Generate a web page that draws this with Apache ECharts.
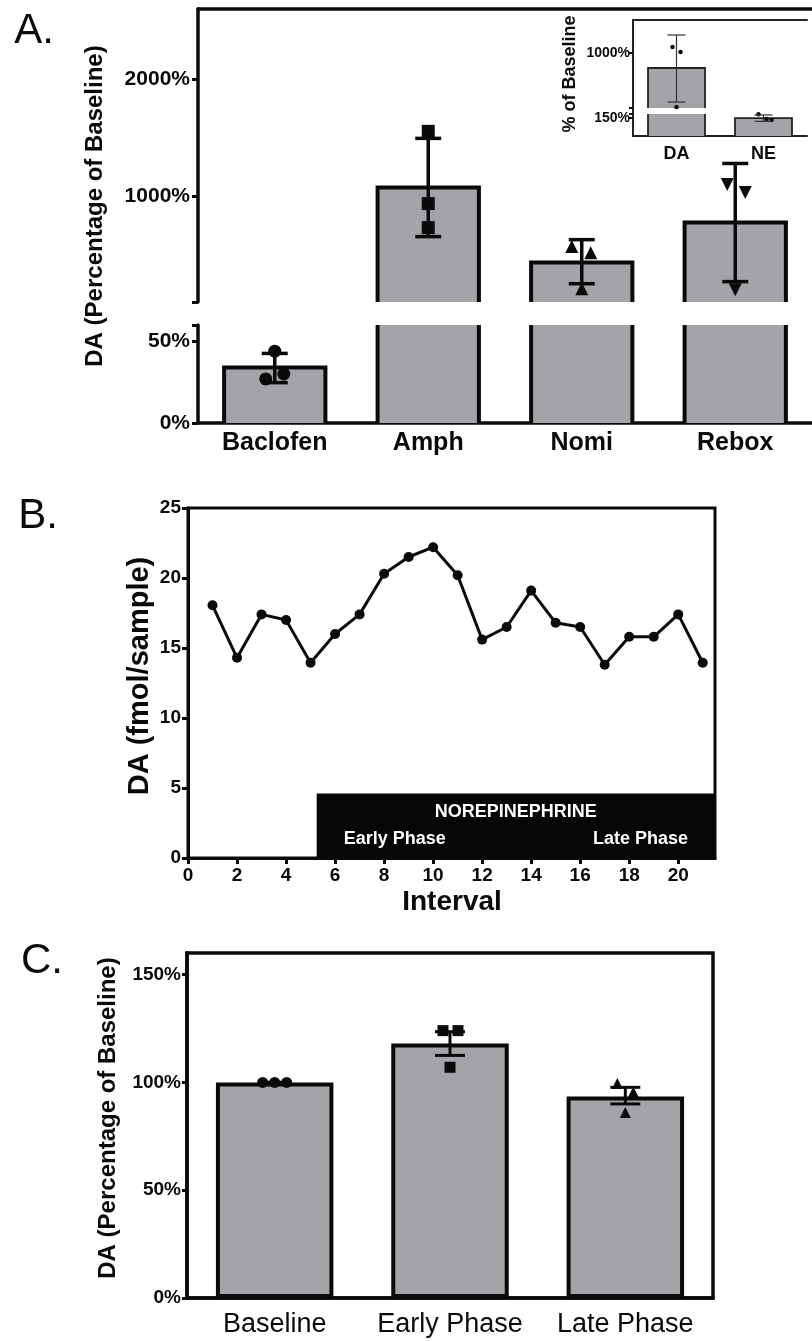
<!DOCTYPE html>
<html><head><meta charset="utf-8">
<script src="https://cdn.jsdelivr.net/npm/echarts@6/dist/echarts.min.js"></script>
<style>html,body{margin:0;padding:0;background:#fff}#c{width:812px;height:1341px}</style>
</head><body><div id="c"></div>
<script>
// ---------------- DATA ----------------
// Panel A
const CATS_A = ['Baclofen', 'Amph', 'Nomi', 'Rebox'];
const MEAN_A = [34, 1077, 436, 778];
const LOW_A = [24.7, 658, 256, 274];
const HIGH_A = [42.6, 1496, 632, 1282];
const POINTS_A = [[44, 27, 30], [1556, 940, 735], [573, 521, 214], [1103, 1034, 205]];
const A_TOP_RANGE = [100, 2600];
const A_TOP_LABELS = [1000, 2000];
const A_BOTTOM_RANGE = [0, 60];
const A_BOTTOM_LABELS = [0, 50];
// Panel A inset
const CATS_INSET = ['DA', 'NE'];
const MEAN_INSET = [809, 147];
const LOW_INSET = [376, 120];
const HIGH_INSET = [1229, 172];
const POINTS_INSET = [[1076, 1013, 314], [178, 139, 131]];
const INSET_TOP_RANGE = [300, 1420];
const INSET_TOP_LABELS = [1000];
const INSET_BOTTOM_RANGE = [0, 180];
const INSET_BOTTOM_LABELS = [150];
// Panel B
const INTERVALS = [1, 2, 3, 4, 5, 6, 7, 8, 9, 10, 11, 12, 13, 14, 15, 16, 17, 18, 19, 20, 21];
const DA_FMOL = [18.05, 14.3, 17.4, 17.0, 13.95, 16.0, 17.4, 20.3, 21.5, 22.2, 20.2, 15.6, 16.5, 19.1, 16.8, 16.5, 13.8, 15.8, 15.8, 17.4, 13.95];
const B_X_RANGE = [0, 21.5];
const B_X_LABELS = [0, 2, 4, 6, 8, 10, 12, 14, 16, 18, 20];
const B_Y_RANGE = [0, 25];
const NE_WINDOW = [5.25, 21.5];
const NE_BAR_TOP = 4.6;
// Panel C
const CATS_C = ['Baseline', 'Early Phase', 'Late Phase'];
const MEAN_C = [100, 118, 93.5];
const LOW_C = [100, 112.5, 90];
const HIGH_C = [100, 123.5, 97.7];
const POINTS_C = [[100, 100, 100], [124, 124, 107], [99.5, 95.5, 86]];
const C_RANGE = [0, 160];
const C_LABELS = [0, 50, 100, 150];

// ---------------- STYLE ----------------
const FONT = "'Liberation Sans', Arial, Helvetica, sans-serif";
const INK = '#0a0a0a';
const GRAY = '#a3a4a8';
const SYM_A = ['circle', 'rect', 'triangle', 'triangle'];
const ROT_A = [0, 0, 0, 180];
const JIT_A = [[0, -9, 9], [0, 0, 0], [-10, 9, 0], [-8, 10, 0]];
const JIT_INSET = [[-4, 4, 0], [-5, 3, 8]];
const SYM_C = ['circle', 'rect', 'triangle'];
const JIT_C = [[-12, 0, 12], [-7, 8, 0], [-8, 8, 0]];

const G_A_TOP = { left: 198, top: 9, width: 624, height: 293 };
const G_A_BOT = { left: 198, top: 325, width: 624, height: 98 };
const G_IN_TOP = { left: 633, top: 20, width: 174, height: 88 };
const G_IN_BOT = { left: 633, top: 114, width: 174, height: 22 };
const G_IN_FRAME = { left: 633, top: 20, width: 174, height: 116 };
const G_B = { left: 188, top: 508, width: 527, height: 350 };
const G_C = { left: 187, top: 953, width: 526, height: 345 };

// ---------------- HELPERS ----------------
function barRender(ratio, lw, fill, stroke) {
  return function (params, api) {
    const cs = params.coordSys;
    const p = api.coord([api.value(0), api.value(1)]);
    const bw = api.size([1, 0])[0] * ratio;
    const x0 = p[0] - bw / 2, x1 = p[0] + bw / 2;
    const yb = cs.y + cs.height;
    if (p[1] >= yb) return null;
    const over = p[1] < cs.y;
    const yt = over ? cs.y : p[1];
    const children = [{ type: 'rect', shape: { x: x0, y: yt, width: bw, height: yb - yt }, style: { fill: fill } }];
    if (over) {
      children.push({ type: 'line', shape: { x1: x0, y1: yb, x2: x0, y2: yt }, style: { stroke: stroke, lineWidth: lw } });
      children.push({ type: 'line', shape: { x1: x1, y1: yb, x2: x1, y2: yt }, style: { stroke: stroke, lineWidth: lw } });
    } else {
      children.push({ type: 'polyline', shape: { points: [[x0, yb], [x0, yt], [x1, yt], [x1, yb]] },
        style: { stroke: stroke, lineWidth: lw, fill: 'none', lineJoin: 'miter' } });
    }
    return { type: 'group', children: children };
  };
}
function errRender(capW, lw, stroke) {
  return function (params, api) {
    const cs = params.coordSys;
    const top = cs.y, bot = cs.y + cs.height;
    const lo = api.coord([api.value(0), api.value(1)]);
    const hi = api.coord([api.value(0), api.value(2)]);
    if (hi[1] > bot + 0.5 || lo[1] < top - 0.5) return null;
    const x = lo[0];
    const st = { stroke: stroke, lineWidth: lw };
    const ch = [{ type: 'line', shape: { x1: x, y1: Math.min(lo[1], bot), x2: x, y2: Math.max(hi[1], top) }, style: st }];
    if (lo[1] <= bot) ch.push({ type: 'line', shape: { x1: x - capW / 2, y1: lo[1], x2: x + capW / 2, y2: lo[1] }, style: st });
    if (hi[1] >= top) ch.push({ type: 'line', shape: { x1: x - capW / 2, y1: hi[1], x2: x + capW / 2, y2: hi[1] }, style: st });
    return { type: 'group', children: ch };
  };
}
function pointData(points, jit, syms, rots, size, range) {
  const out = [];
  points.forEach(function (arr, i) {
    arr.forEach(function (v, j) {
      if (range && (v < range[0] || v > range[1])) return;
      out.push({ value: [i, v], symbol: syms[i], symbolRotate: rots ? rots[i] : 0,
        symbolOffset: [jit[i][j], 0], symbolSize: size });
    });
  });
  return out;
}
const barData = (m) => m.map((v, i) => [i, v]);
const errData = (lo, hi) => lo.map((v, i) => [i, v, hi[i]]);
const pct = (v) => v + '%';

function valAxis(grid, range, ticks, labels, o) {
  o = o || {};
  return {
    type: 'value', gridIndex: grid, min: range[0], max: range[1],
    axisLine: { show: true, lineStyle: { color: INK, width: o.lw || 3.5 } },
    axisTick: { show: true, length: o.tl || 6, customValues: ticks, lineStyle: { color: INK, width: o.tw || 3 } },
    axisLabel: { show: true, customValues: labels, formatter: o.fmt || pct, margin: o.margin || 8,
      fontFamily: FONT, fontWeight: 'bold', fontSize: o.fs || 21, color: INK },
    splitLine: { show: false }
  };
}

const chart = echarts.init(document.getElementById('c'), null, { renderer: 'canvas' });

const option = {
  animation: false,
  backgroundColor: '#fff',
  grid: [G_A_TOP, G_A_BOT, G_IN_TOP, G_IN_BOT, G_IN_FRAME,
    Object.assign({ show: true, borderColor: INK, borderWidth: 3 }, G_B),
    Object.assign({ show: true, borderColor: INK, borderWidth: 3.5 }, G_C)],
  xAxis: [
    { type: 'category', gridIndex: 0, data: CATS_A, position: 'top',
      axisLine: { lineStyle: { color: INK, width: 3.5 } }, axisTick: { show: false }, axisLabel: { show: false } },
    { type: 'category', gridIndex: 1, data: CATS_A,
      axisLine: { lineStyle: { color: INK, width: 3.5 } },
      axisTick: { alignWithLabel: true, length: 6, lineStyle: { color: INK, width: 3 } },
      axisLabel: { interval: 0, hideOverlap: false, fontFamily: FONT, fontWeight: 'bold', fontSize: 25, color: INK, margin: 8 } },
    { type: 'category', gridIndex: 2, data: CATS_INSET, position: 'top',
      axisLine: { lineStyle: { color: '#222', width: 2 } }, axisTick: { show: false }, axisLabel: { show: false } },
    { type: 'category', gridIndex: 3, data: CATS_INSET,
      axisLine: { lineStyle: { color: '#222', width: 2 } },
      axisTick: { alignWithLabel: true, length: 4, lineStyle: { color: '#222', width: 2 } },
      axisLabel: { interval: 0, fontFamily: FONT, fontWeight: 'bold', fontSize: 18, color: INK, margin: 9 } },
    { type: 'value', gridIndex: 4, show: false, min: 0, max: 1 },
    { type: 'value', gridIndex: 5, min: B_X_RANGE[0], max: B_X_RANGE[1],
      axisLine: { lineStyle: { color: INK, width: 3 } },
      axisTick: { length: 6, customValues: B_X_LABELS, lineStyle: { color: INK, width: 3 } },
      axisLabel: { customValues: B_X_LABELS, fontFamily: FONT, fontWeight: 'bold', fontSize: 19, color: INK, margin: 8 },
      splitLine: { show: false } },
    { type: 'category', gridIndex: 6, data: CATS_C,
      axisLine: { lineStyle: { color: INK, width: 3.5 } },
      axisTick: { alignWithLabel: true, length: 7, lineStyle: { color: INK, width: 3 } },
      axisLabel: { interval: 0, hideOverlap: false, fontFamily: FONT, fontSize: 27, color: INK, margin: 13 } }
  ],
  yAxis: [
    valAxis(0, A_TOP_RANGE, [A_TOP_RANGE[0]].concat(A_TOP_LABELS), A_TOP_LABELS, { margin: 8 }),
    valAxis(1, A_BOTTOM_RANGE, A_BOTTOM_LABELS.concat([A_BOTTOM_RANGE[1]]), A_BOTTOM_LABELS, { margin: 8 }),
    valAxis(2, INSET_TOP_RANGE, [INSET_TOP_RANGE[0]].concat(INSET_TOP_LABELS), INSET_TOP_LABELS,
      { lw: 2, tw: 2, tl: 4, fs: 14, margin: 3 }),
    valAxis(3, INSET_BOTTOM_RANGE, INSET_BOTTOM_LABELS.concat([INSET_BOTTOM_RANGE[1]]), INSET_BOTTOM_LABELS,
      { lw: 2, tw: 2, tl: 4, fs: 14, margin: 3 }),
    { type: 'value', gridIndex: 4, position: 'right', min: 0, max: 1,
      axisLine: { show: true, lineStyle: { color: '#222', width: 2 } },
      axisTick: { show: false }, axisLabel: { show: false }, splitLine: { show: false } },
    { type: 'value', gridIndex: 5, min: B_Y_RANGE[0], max: B_Y_RANGE[1], interval: 5,
      axisLine: { show: true, lineStyle: { color: INK, width: 3 } },
      axisTick: { show: true, length: 6, lineStyle: { color: INK, width: 3 } },
      axisLabel: { fontFamily: FONT, fontWeight: 'bold', fontSize: 19, color: INK, margin: 7 },
      splitLine: { show: false } },
    valAxis(6, C_RANGE, C_LABELS, C_LABELS, { fs: 19, margin: 6, tl: 5 })
  ],
  series: [
    // Panel A bars
    { type: 'custom', xAxisIndex: 0, yAxisIndex: 0, renderItem: barRender(0.66, 4, GRAY, INK), data: barData(MEAN_A), encode: { x: 0, y: 1 }, z: 2 },
    { type: 'custom', xAxisIndex: 1, yAxisIndex: 1, renderItem: barRender(0.66, 4, GRAY, INK), data: barData(MEAN_A), encode: { x: 0, y: 1 }, z: 2 },
    // Panel A points
    { type: 'scatter', xAxisIndex: 0, yAxisIndex: 0, itemStyle: { color: INK, opacity: 1 }, z: 3,
      data: pointData(POINTS_A, JIT_A, SYM_A, ROT_A, 13, A_TOP_RANGE) },
    { type: 'scatter', xAxisIndex: 1, yAxisIndex: 1, itemStyle: { color: INK, opacity: 1 }, z: 3,
      data: pointData(POINTS_A, JIT_A, SYM_A, ROT_A, 13, A_BOTTOM_RANGE) },
    // Panel A error bars
    { type: 'custom', xAxisIndex: 0, yAxisIndex: 0, renderItem: errRender(26, 3.5, INK), data: errData(LOW_A, HIGH_A), encode: { x: 0, y: [1, 2] }, z: 4 },
    { type: 'custom', xAxisIndex: 1, yAxisIndex: 1, renderItem: errRender(26, 3.5, INK), data: errData(LOW_A, HIGH_A), encode: { x: 0, y: [1, 2] }, z: 4 },
    // Inset
    { type: 'custom', xAxisIndex: 2, yAxisIndex: 2, renderItem: barRender(0.655, 1.8, GRAY, '#222'), data: barData(MEAN_INSET), encode: { x: 0, y: 1 }, z: 2 },
    { type: 'custom', xAxisIndex: 3, yAxisIndex: 3, renderItem: barRender(0.655, 1.8, GRAY, '#222'), data: barData(MEAN_INSET), encode: { x: 0, y: 1 }, z: 2 },
    { type: 'scatter', xAxisIndex: 2, yAxisIndex: 2, itemStyle: { color: INK, opacity: 1 }, z: 3,
      data: pointData(POINTS_INSET, JIT_INSET, ['circle', 'circle'], null, 4.5, INSET_TOP_RANGE) },
    { type: 'scatter', xAxisIndex: 3, yAxisIndex: 3, itemStyle: { color: INK, opacity: 1 }, z: 3,
      data: pointData(POINTS_INSET, JIT_INSET, ['circle', 'circle'], null, 4.5, INSET_BOTTOM_RANGE) },
    { type: 'custom', xAxisIndex: 2, yAxisIndex: 2, renderItem: errRender(18, 1.2, '#333'), data: errData(LOW_INSET, HIGH_INSET), encode: { x: 0, y: [1, 2] }, z: 4 },
    { type: 'custom', xAxisIndex: 3, yAxisIndex: 3, renderItem: errRender(18, 1.2, '#333'), data: errData(LOW_INSET, HIGH_INSET), encode: { x: 0, y: [1, 2] }, z: 4 },
    // Panel B
    { type: 'line', xAxisIndex: 5, yAxisIndex: 5, data: INTERVALS.map((x, i) => [x, DA_FMOL[i]]),
      symbol: 'circle', symbolSize: 10, showSymbol: true,
      lineStyle: { color: INK, width: 3 }, itemStyle: { color: INK }, z: 3,
      markArea: {
        silent: true,
        label: { show: true, formatter: '{b}', color: '#fff', fontFamily: FONT, fontWeight: 'bold', fontSize: 18 },
        data: [
          [{ name: 'NOREPINEPHRINE', coord: [NE_WINDOW[0], 0], itemStyle: { color: '#060606', opacity: 1 },
             label: { position: 'insideTop', distance: 9 } },
           { coord: [NE_WINDOW[1], NE_BAR_TOP] }],
          [{ name: 'Early Phase', coord: [NE_WINDOW[0], 0], itemStyle: { color: 'rgba(0,0,0,0)' },
             label: { position: 'insideBottomLeft', distance: 10, offset: [17, 0] } },
           { coord: [NE_WINDOW[1], NE_BAR_TOP] }],
          [{ name: 'Late Phase', coord: [NE_WINDOW[0], 0], itemStyle: { color: 'rgba(0,0,0,0)' },
             label: { position: 'insideBottomRight', distance: 10, offset: [-17, 0] } },
           { coord: [NE_WINDOW[1], NE_BAR_TOP] }]
        ]
      } },
    // Panel C
    { type: 'bar', xAxisIndex: 6, yAxisIndex: 6, data: MEAN_C, barWidth: '67%',
      itemStyle: { color: GRAY, borderColor: INK, borderWidth: 4 }, z: 2 },
    { type: 'scatter', xAxisIndex: 6, yAxisIndex: 6, itemStyle: { color: INK, opacity: 1 }, z: 3,
      data: pointData(POINTS_C, JIT_C, SYM_C, null, 11, C_RANGE) },
    { type: 'custom', xAxisIndex: 6, yAxisIndex: 6, renderItem: errRender(30, 3, INK), data: errData(LOW_C, HIGH_C), encode: { x: 0, y: [1, 2] }, z: 4 }
  ],
  graphic: [
    { type: 'text', x: 34, y: 31, style: { text: 'A.', font: '42px ' + FONT, fill: INK, align: 'center', verticalAlign: 'middle', textAlign: 'center', textVerticalAlign: 'middle' } },
    { type: 'text', x: 38, y: 516, style: { text: 'B.', font: '42px ' + FONT, fill: INK, align: 'center', verticalAlign: 'middle', textAlign: 'center', textVerticalAlign: 'middle' } },
    { type: 'text', x: 42, y: 961, style: { text: 'C.', font: '42px ' + FONT, fill: INK, align: 'center', verticalAlign: 'middle', textAlign: 'center', textVerticalAlign: 'middle' } },
    { type: 'text', x: 95, y: 206, rotation: Math.PI / 2, style: { text: 'DA (Percentage of Baseline)', font: 'bold 24px ' + FONT, fill: INK, align: 'center', verticalAlign: 'middle', textAlign: 'center', textVerticalAlign: 'middle' } },
    { type: 'text', x: 570, y: 74, rotation: Math.PI / 2, style: { text: '% of Baseline', font: 'bold 18px ' + FONT, fill: INK, align: 'center', verticalAlign: 'middle', textAlign: 'center', textVerticalAlign: 'middle' } },
    { type: 'text', x: 140, y: 676, rotation: Math.PI / 2, style: { text: 'DA (fmol/sample)', font: 'bold 29px ' + FONT, fill: INK, align: 'center', verticalAlign: 'middle', textAlign: 'center', textVerticalAlign: 'middle' } },
    { type: 'text', x: 452, y: 902, style: { text: 'Interval', font: 'bold 28px ' + FONT, fill: INK, align: 'center', verticalAlign: 'middle', textAlign: 'center', textVerticalAlign: 'middle' } },
    { type: 'text', x: 108, y: 1118, rotation: Math.PI / 2, style: { text: 'DA (Percentage of Baseline)', font: 'bold 24px ' + FONT, fill: INK, align: 'center', verticalAlign: 'middle', textAlign: 'center', textVerticalAlign: 'middle' } }
  ]
};
chart.setOption(option);
</script></body></html>
